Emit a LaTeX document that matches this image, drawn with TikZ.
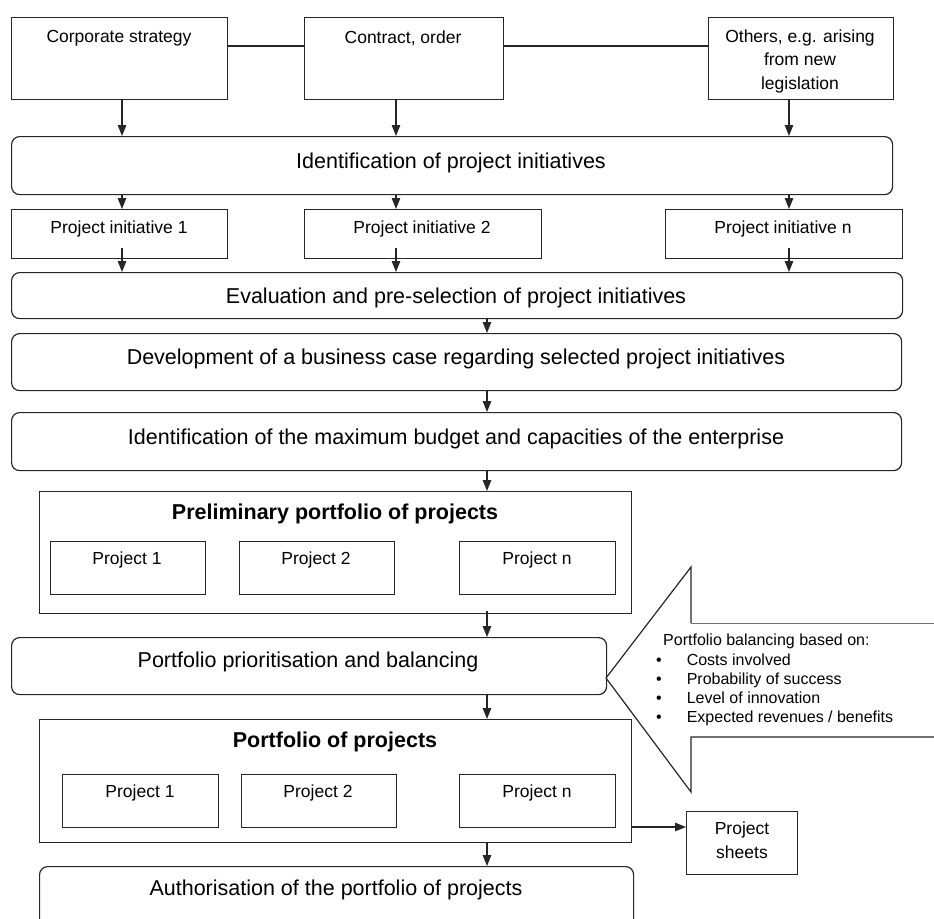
\documentclass[tikz,border=0pt]{standalone}
\usepackage{fontspec}
\setmainfont{Liberation Sans}
\usetikzlibrary{arrows.meta,calc}
\begin{document}
\begin{tikzpicture}[x=1pt,y=-1pt,
  box/.style={draw=black!85, line width=1.2pt, inner sep=0pt, anchor=north west},
  rbox/.style={box, rounded corners=8pt},
  bigtxt/.style={font=\fontsize{21.5}{24}\selectfont, inner sep=0pt},
  boldtxt/.style={font=\fontsize{21.5}{24}\selectfont\bfseries, inner sep=0pt},
  smalltxt/.style={font=\fontsize{17.5}{23.5}\selectfont, align=center, inner sep=0pt},
  ln/.style={line width=1.2pt, draw=black!85},
  arr/.style={ln, -{Triangle[length=11pt,width=8.5pt]}},
]
\useasboundingbox (0,0) rectangle (934,918);
\clip (0,0) rectangle (934,918);

\coordinate (xa) at (122,0);
\coordinate (xb) at (396,0);
\coordinate (xc) at (789,0);
\coordinate (xm) at (487,0);
\coordinate (hy) at (0,46);
\coordinate (sy) at (0,827);

% top sources
\node[box, minimum width=216, minimum height=82] (corp) at (11,17) {};
\node[smalltxt] (corpT) at (119,38) {Corporate strategy};
\node[box, minimum width=199, minimum height=82] (contr) at (304,17) {};
\node[smalltxt] (contrT) at (403,38) {Contract, order};
\node[box, minimum width=185, minimum height=82] (oth) at (708,17) {};
\node[smalltxt] (othT) at (800,61) {Others, e.g. arising\\from new\\legislation};

\draw[ln] (corp.east |- hy) -- (contr.west |- hy);
\draw[ln] (contr.east |- hy) -- (oth.west |- hy);

% identification
\node[rbox, minimum width=881, minimum height=58] (ident) at (11,136) {};
\node[bigtxt] (identT) at (451,163) {Identification of project initiatives};

\draw[arr] (corp.south -| xa) -- (ident.north -| xa);
\draw[arr] (contr.south -| xb) -- (ident.north -| xb);
\draw[arr] (oth.south -| xc) -- (ident.north -| xc);

% initiatives
\node[box, minimum width=216, minimum height=49] (i1) at (11,209) {};
\node[smalltxt] (i1T) at (119,229) {Project initiative 1};
\node[box, minimum width=237, minimum height=49] (i2) at (304,209) {};
\node[smalltxt] (i2T) at (422,229) {Project initiative 2};
\node[box, minimum width=237, minimum height=49] (in) at (665,209) {};
\node[smalltxt] (inT) at (783,229) {Project initiative n};

\draw[arr] (ident.south -| xa) -- (i1.north -| xa);
\draw[arr] (ident.south -| xb) -- (i2.north -| xb);
\draw[arr] (ident.south -| xc) -- (in.north -| xc);

% evaluation
\node[rbox, minimum width=891, minimum height=46] (eval) at (11,272) {};
\node[bigtxt] (evalT) at (456,298) {Evaluation and pre-selection of project initiatives};

\draw[arr] ($(i1.south -| xa)+(0,-11)$) -- (eval.north -| xa);
\draw[arr] ($(i2.south -| xb)+(0,-11)$) -- (eval.north -| xb);
\draw[arr] ($(in.south -| xc)+(0,-11)$) -- (eval.north -| xc);

% development
\node[rbox, minimum width=890, minimum height=57] (dev) at (11,333) {};
\node[bigtxt] (devT) at (456,359) {Development of a business case regarding selected project initiatives};
\draw[arr] (eval.south -| xm) -- (dev.north -| xm);

% max budget
\node[rbox, minimum width=890, minimum height=58] (maxb) at (11,412) {};
\node[bigtxt] (maxbT) at (456,439) {Identification of the maximum budget and capacities of the enterprise};
\draw[arr] (dev.south -| xm) -- (maxb.north -| xm);

% preliminary portfolio
\node[box, minimum width=592, minimum height=122] (prel) at (39,491) {};
\node[boldtxt] (prelT) at (335,514) {Preliminary portfolio of projects};
\node[box, minimum width=155, minimum height=53] (p1) at (50,541) {};
\node[smalltxt] (p1T) at (127,560) {Project 1};
\node[box, minimum width=155, minimum height=53] (p2) at (239,541) {};
\node[smalltxt] (p2T) at (316,560) {Project 2};
\node[box, minimum width=156, minimum height=53] (pn) at (459,541) {};
\node[smalltxt] (pnT) at (537,560) {Project n};
\draw[arr] (maxb.south -| xm) -- (prel.north -| xm);

% prioritisation
\node[rbox, minimum width=595, minimum height=57] (prio) at (11,637) {};
\node[bigtxt] (prioT) at (308,662) {Portfolio prioritisation and balancing};
\draw[arr] ($(prel.south -| xm)+(0,-3)$) -- (prio.north -| xm);

% balancing callout arrow
\draw[ln] (940,737) -- (691,737) -- (691,792) -- (606,678) -- (691,567) -- (691,623);
\draw[line width=1pt, draw=black!55] (691,623) -- (940,623);
\node[anchor=north west, inner sep=0pt, font=\fontsize{16}{19.3}\selectfont] (bal) at (656,632)
  {\begin{tabular}{@{}l@{\hspace{25pt}}l@{}}
   \multicolumn{2}{@{}l@{}}{\hspace{7pt}Portfolio balancing based on:}\\
   \textbullet & Costs involved\\
   \textbullet & Probability of success\\
   \textbullet & Level of innovation\\
   \textbullet & Expected revenues / benefits
   \end{tabular}};

% portfolio of projects
\node[box, minimum width=592, minimum height=123] (port) at (39,719) {};
\node[boldtxt] (portT) at (335,742) {Portfolio of projects};
\node[box, minimum width=156, minimum height=53] (q1) at (62,774) {};
\node[smalltxt] (q1T) at (140,793) {Project 1};
\node[box, minimum width=155, minimum height=53] (q2) at (241,774) {};
\node[smalltxt] (q2T) at (318,793) {Project 2};
\node[box, minimum width=156, minimum height=53] (qn) at (459,774) {};
\node[smalltxt] (qnT) at (537,793) {Project n};
\draw[arr] (prio.south -| xm) -- (port.north -| xm);

% project sheets
\node[box, minimum width=111, minimum height=63] (sheets) at (686,811) {};
\node[smalltxt] (sheetsT) at (742,840) {Project\\sheets};
\draw[arr] (port.east |- sy) -- (sheets.west |- sy);

% authorisation
\node[rbox, minimum width=594, minimum height=70] (auth) at (39,866) {};
\node[bigtxt] (authT) at (336,890) {Authorisation of the portfolio of projects};
\draw[arr] (port.south -| xm) -- (auth.north -| xm);
\end{tikzpicture}
\end{document}
